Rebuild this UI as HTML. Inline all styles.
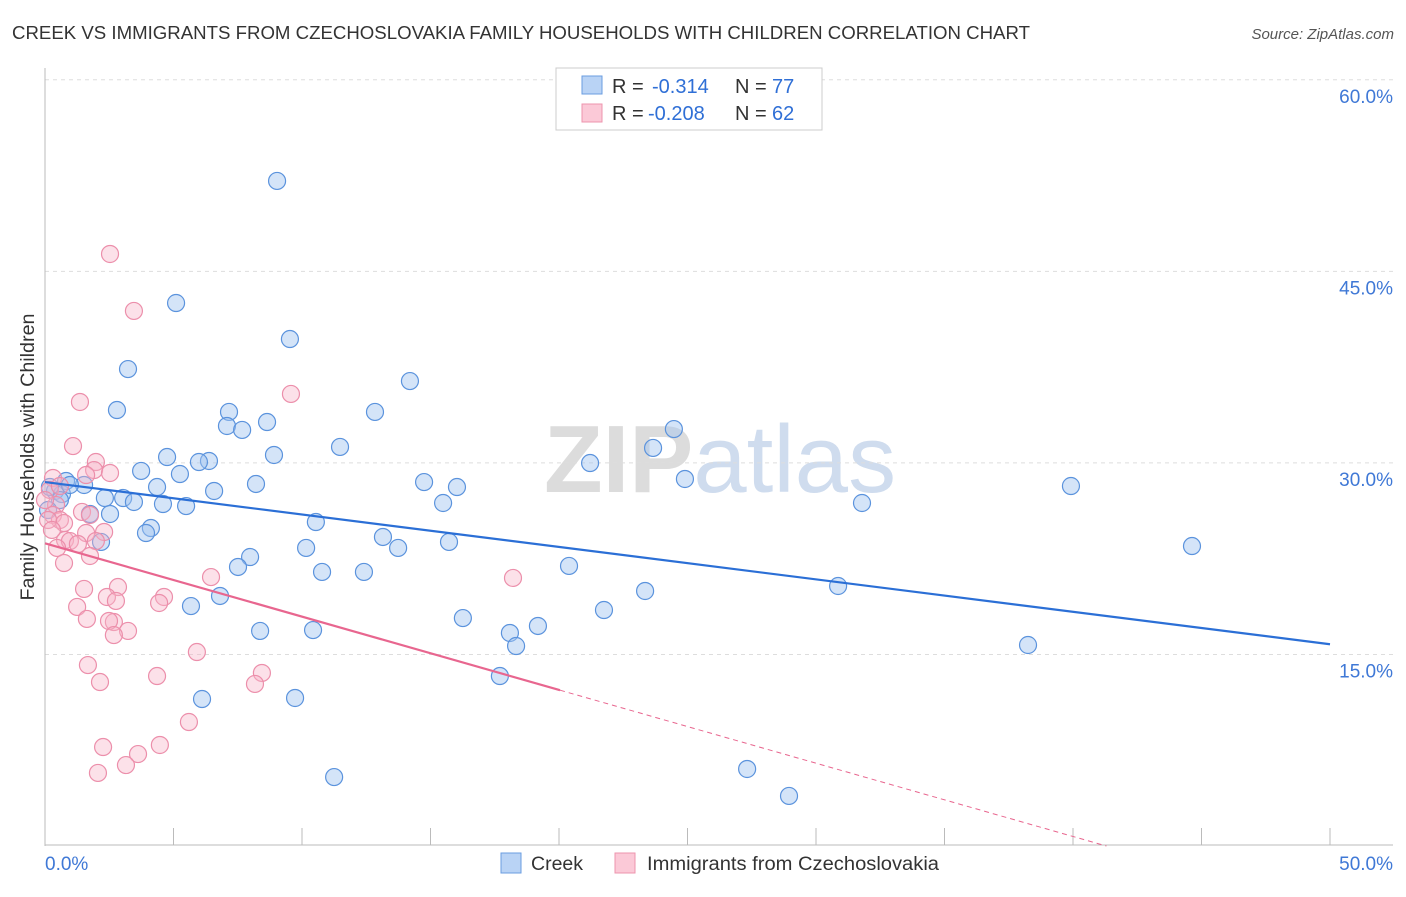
<!DOCTYPE html>
<html><head><meta charset="utf-8"><style>
body{margin:0;background:#fff;font-family:"Liberation Sans",sans-serif;}
svg text{font-family:"Liberation Sans",sans-serif;}
</style></head><body>
<svg width="1406" height="892">
<text x="12" y="39" font-size="18" fill="#333" textLength="1018" lengthAdjust="spacingAndGlyphs">CREEK VS IMMIGRANTS FROM CZECHOSLOVAKIA FAMILY HOUSEHOLDS WITH CHILDREN CORRELATION CHART</text>
<text x="1394" y="39" font-size="15" fill="#555" font-style="italic" text-anchor="end">Source: ZipAtlas.com</text>
<text x="720" y="492" font-size="96" text-anchor="middle" fill="#e4e4e4" font-family="Liberation Serif"><tspan font-weight="bold" fill="#dcdcdc">ZIP</tspan><tspan fill="#cfdcee" font-family="Liberation Sans">atlas</tspan></text>
<g id="grid"></g><g id="axes"></g><g id="pts"></g><g id="lines"></g>
<text transform="translate(34,457) rotate(-90)" font-size="19" fill="#333" text-anchor="middle" textLength="287" lengthAdjust="spacingAndGlyphs">Family Households with Children</text>
<g>
<rect x="556" y="68" width="266" height="62" fill="#fff" stroke="#ccc"/>
<rect x="582" y="76" width="20" height="18" fill="#b9d3f5" stroke="#6a9ce0"/>
<rect x="582" y="104" width="20" height="18" fill="#fbc9d7" stroke="#ee94ae"/>
<text x="612" y="93" font-size="20" fill="#333">R =</text>
<text x="652" y="93" font-size="20" fill="#2f6fd6">-0.314</text>
<text x="735" y="93" font-size="20" fill="#333">N =</text>
<text x="772" y="93" font-size="20" fill="#2f6fd6">77</text>
<text x="612" y="120" font-size="20" fill="#333">R =</text>
<text x="648" y="120" font-size="20" fill="#2f6fd6">-0.208</text>
<text x="735" y="120" font-size="20" fill="#333">N =</text>
<text x="772" y="120" font-size="20" fill="#2f6fd6">62</text>
</g>
<g>
<rect x="501" y="853" width="20" height="20" fill="#b9d3f5" stroke="#6a9ce0"/>
<text x="531" y="870" font-size="19" fill="#333" textLength="52" lengthAdjust="spacingAndGlyphs">Creek</text>
<rect x="615" y="853" width="20" height="20" fill="#fbc9d7" stroke="#ee94ae"/>
<text x="647" y="870" font-size="19" fill="#333" textLength="292" lengthAdjust="spacingAndGlyphs">Immigrants from Czechoslovakia</text>
</g>
</svg>
<script>
const yTicks=[15,30,45,60];
const xTickLabels=["0.0%","50.0%"];
const bluePx=[[277,181],[176,303],[290,339],[128,369],[410,381],[117,410],[229,412],[375,412],[267,422],[227,426],[242,430],[674,429],[340,447],[653,448],[167,457],[209,461],[199,462],[274,455],[590,463],[141,471],[180,474],[424,482],[685,479],[157,487],[457,487],[1071,486],[214,491],[256,484],[66,481],[84,485],[55,491],[62,494],[105,498],[123,498],[134,502],[163,504],[186,506],[443,503],[862,503],[110,514],[90,514],[316,522],[151,528],[146,533],[383,537],[449,542],[101,542],[1192,546],[306,548],[398,548],[250,557],[238,567],[569,566],[322,572],[364,572],[838,586],[645,591],[220,596],[191,606],[604,610],[463,618],[538,626],[260,631],[313,630],[510,633],[516,646],[1028,645],[500,676],[202,699],[295,698],[747,769],[334,777],[789,796],[50,487],[70,485],[60,500],[48,510]];
const pinkPx=[[110,254],[134,311],[291,394],[80,402],[73,446],[96,462],[94,470],[110,473],[86,475],[53,478],[50,490],[60,486],[56,505],[82,512],[90,515],[53,515],[60,520],[64,523],[104,532],[86,533],[65,540],[70,541],[96,541],[78,544],[57,548],[90,556],[64,563],[211,577],[513,578],[118,587],[84,589],[164,597],[107,597],[159,603],[116,601],[77,607],[87,619],[114,622],[109,621],[128,631],[114,635],[197,652],[88,665],[262,673],[100,682],[157,676],[255,684],[189,722],[103,747],[160,745],[138,754],[126,765],[98,773],[45,500],[48,520],[52,530]];
const blueX=bluePx.map(p=>+((p[0]-45)/25.7).toFixed(2)), blueY=bluePx.map(p=>+((846-p[1])/12.77).toFixed(2));
const pinkX=pinkPx.map(p=>+((p[0]-45)/25.7).toFixed(2)), pinkY=pinkPx.map(p=>+((846-p[1])/12.77).toFixed(2));
const blueTrend=[28.5,15.8];
const pinkTrend=[23.7,12.2,20.04];
const X=v=>45+v*25.7, Y=v=>846-v*12.77;
const NS="http://www.w3.org/2000/svg";
function mk(t,a,p){const e=document.createElementNS(NS,t);for(const k in a)e.setAttribute(k,a[k]);document.getElementById(p).appendChild(e);return e;}
yTicks.forEach(t=>{
 const l=mk('line',{x1:45,x2:1393,y1:Y(t),y2:Y(t),stroke:'#ddd','stroke-dasharray':'4,4'},'grid');
 
 
 const tx=mk('text',{x:1393,y:Y(t)+23,'font-size':19,fill:'#3f78d6','text-anchor':'end'},'grid');tx.textContent=t.toFixed(1)+'%';
 
 
});
mk('line',{x1:45,x2:45,y1:68,y2:846,stroke:'#bbb'},'axes');
mk('line',{x1:45,x2:1393,y1:845,y2:845,stroke:'#bbb'},'axes');
for(let i=0;i<=10;i++){mk('line',{x1:X(i*5),x2:X(i*5),y1:828,y2:845,stroke:'#bbb'},'axes');}
const xl0=mk('text',{x:45,y:870,'font-size':19,fill:'#3f78d6'},'axes');xl0.textContent=xTickLabels[0];


const xl1=mk('text',{x:1393,y:870,'font-size':19,fill:'#3f78d6','text-anchor':'end'},'axes');xl1.textContent=xTickLabels[1];


blueX.forEach((x,i)=>{const c=mk('circle',{cx:X(x),cy:Y(blueY[i]),r:8.5,fill:'rgba(160,196,240,0.45)',stroke:'#5b93dd','stroke-width':1.2},'pts');
 
 });
pinkX.forEach((x,i)=>{const c=mk('circle',{cx:X(x),cy:Y(pinkY[i]),r:8.5,fill:'rgba(248,180,200,0.4)',stroke:'#ec8fab','stroke-width':1.2},'pts');
 
 });
const bl=mk('line',{x1:X(0),y1:Y(blueTrend[0]),x2:X(50),y2:Y(blueTrend[1]),stroke:'#2b6fd6','stroke-width':2.2},'lines');


const ps=(pinkTrend[1]-pinkTrend[0])/pinkTrend[2];
const pl=mk('line',{x1:X(0),y1:Y(pinkTrend[0]),x2:X(pinkTrend[2]),y2:Y(pinkTrend[1]),stroke:'#e8668f','stroke-width':2.2},'lines');


const xe=-pinkTrend[0]/ps;
const pd=mk('line',{x1:X(pinkTrend[2]),y1:Y(pinkTrend[1]),x2:X(xe),y2:Y(0),stroke:'#e8668f','stroke-width':1,'stroke-dasharray':'5,4'},'lines');


</script>
</body></html>
